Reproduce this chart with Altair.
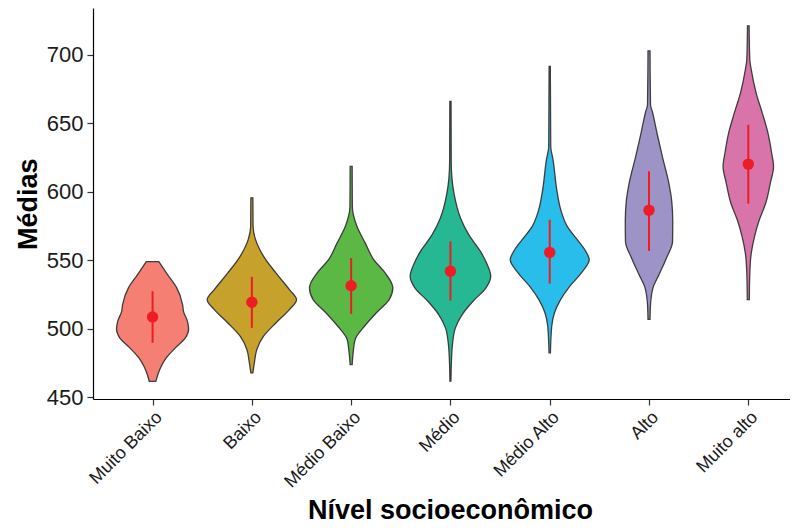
import json
import altair as alt
import pandas as pd

# ---- data ----
categories = ["Muito Baixo", "Baixo", "Médio Baixo", "Médio", "Médio Alto", "Alto", "Muito alto"]
fill_colors = ["#F47F72", "#C6A12B", "#5BB844", "#25B892", "#29BDEB", "#9E93C7", "#D974AB"]

# violin outline: score levels and half-width (in category units) at each level
violin_values = {
    "Muito Baixo": [461.7, 466.0, 471.9, 479.2, 486.4, 493.7, 499.6, 505.4, 512.7, 517.8, 530.2, 539.7, 549.1],
    "Baixo": [468.0, 475.3, 485.0, 494.7, 504.4, 514.1, 521.4, 528.7, 540.9, 553.0, 565.2, 575.0, 595.6],
    "Médio Baixo": [474.0, 482.6, 492.3, 502.0, 511.7, 521.4, 530.0, 540.9, 550.6, 562.8, 574.9, 589.4, 618.6],
    "Médio": [461.9, 476.5, 488.6, 500.8, 510.5, 520.2, 530.0, 538.4, 547.0, 556.6, 568.8, 581.0, 598.0, 610.1, 622.2, 666.0],
    "Médio Alto": [482.6, 502.0, 511.7, 521.4, 531.1, 540.9, 550.6, 556.6, 565.2, 574.9, 587.0, 599.2, 623.5, 633.2, 691.5],
    "Alto": [507.0, 517.8, 530.0, 539.7, 551.8, 563.9, 578.5, 593.1, 607.7, 624.7, 641.7, 658.7, 663.6, 702.9],
    "Muito alto": [521.4, 540.9, 555.5, 567.6, 579.7, 591.9, 606.5, 618.6, 628.4, 642.9, 657.5, 672.1, 689.1, 696.4, 721.2],
}
violin_halfwidth = {
    "Muito Baixo": [0.033, 0.05, 0.081, 0.141, 0.232, 0.332, 0.363, 0.352, 0.312, 0.302, 0.242, 0.151, 0.063],
    "Baixo": [0.01, 0.025, 0.05, 0.118, 0.242, 0.378, 0.45, 0.378, 0.242, 0.118, 0.037, 0.012, 0.01],
    "Médio Baixo": [0.01, 0.02, 0.04, 0.134, 0.252, 0.383, 0.42, 0.342, 0.227, 0.141, 0.058, 0.012, 0.01],
    "Médio": [0.005, 0.01, 0.02, 0.05, 0.118, 0.227, 0.358, 0.406, 0.37, 0.302, 0.184, 0.101, 0.038, 0.015, 0.008, 0.006],
    "Médio Alto": [0.007, 0.02, 0.047, 0.109, 0.201, 0.319, 0.398, 0.363, 0.277, 0.176, 0.111, 0.076, 0.033, 0.01, 0.006],
    "Alto": [0.01, 0.015, 0.04, 0.101, 0.176, 0.237, 0.239, 0.229, 0.196, 0.138, 0.084, 0.033, 0.015, 0.01],
    "Muito alto": [0.01, 0.015, 0.03, 0.063, 0.111, 0.176, 0.222, 0.254, 0.235, 0.198, 0.141, 0.079, 0.03, 0.015, 0.008],
}

means = [508.8, 519.5, 531.6, 542.1, 555.9, 586.6, 620.3]
sd_low = [489.9, 500.8, 511.0, 520.7, 533.1, 557.0, 591.4]
sd_high = [527.5, 538.0, 551.8, 563.9, 579.7, 615.0, 649.0]

y_ticks = [450, 500, 550, 600, 650, 700]

# ---- tables ----
rows = []
for i, cat in enumerate(categories):
    pos = i + 1
    for v, w in zip(violin_values[cat], violin_halfwidth[cat]):
        rows.append({"cat": cat, "pos": pos, "y": v, "lo": pos - w, "hi": pos + w})
violins = pd.DataFrame(rows)

summary = pd.DataFrame({
    "cat": categories,
    "pos": list(range(1, len(categories) + 1)),
    "mean": means,
    "low": sd_low,
    "high": sd_high,
})

FONT = "Liberation Sans"
xscale = alt.Scale(domain=[0.4, 7.42], nice=False, zero=False)
yscale = alt.Scale(domain=[448.9, 734.2], nice=False, zero=False)

label_expr = json.dumps(categories) + "[round(datum.value) - 1]"

x_axis = alt.Axis(
    values=list(range(1, len(categories) + 1)),
    labelExpr=label_expr,
    labelAngle=-45,
    labelAlign="right",
    labelBaseline="top",
    labelFontSize=18,
    labelPadding=3,
    title="Nível socioeconômico",
    titleFontSize=27,
    titleFontWeight="bold",
    titleX=357,
    titleY=119,
    titleAlign="center",
    titleBaseline="alphabetic",
    grid=False,
)
y_axis = alt.Axis(
    values=y_ticks,
    labelFontSize=22,
    labelPadding=4,
    title="Médias",
    titleFontSize=27,
    titleFontWeight="bold",
    titleX=-65,
    titleY=195.7,
    titleAngle=-90,
    titleAlign="center",
    titleBaseline="middle",
    grid=False,
)

violin = alt.Chart(violins).mark_area(
    orient="horizontal", interpolate="monotone",
    stroke="#3d3d3d", strokeWidth=1.3, opacity=1, fillOpacity=1,
).encode(
    y=alt.Y("y:Q", scale=yscale, axis=y_axis),
    x=alt.X("lo:Q", scale=xscale, axis=x_axis),
    x2="hi:Q",
    color=alt.Color("cat:N", scale=alt.Scale(domain=categories, range=fill_colors), legend=None),
)

sd_rules = alt.Chart(summary).mark_rule(color="#EE1D25", strokeWidth=2).encode(
    x=alt.X("pos:Q", scale=xscale),
    y=alt.Y("low:Q", scale=yscale),
    y2="high:Q",
)

points = alt.Chart(summary).mark_circle(color="#EE1D25", opacity=1, size=130).encode(
    x=alt.X("pos:Q", scale=xscale),
    y=alt.Y("mean:Q", scale=yscale),
)

chart = alt.layer(violin, sd_rules, points).properties(
    width=697,
    height=391,
    autosize=alt.AutoSizeParams(type="none"),
    padding={"left": 85, "top": 0, "right": 0, "bottom": 125},
).configure_view(stroke=None).configure_axis(
    domainColor="#000000",
    domainWidth=1.2,
    tickColor="#333333",
    tickSize=6,
    tickWidth=1.2,
    labelColor="#1a1a1a",
    titleColor="#000000",
    labelFont=FONT,
    titleFont=FONT,
)

chart.save("out.html", embed_options={"renderer": "svg", "actions": False})
